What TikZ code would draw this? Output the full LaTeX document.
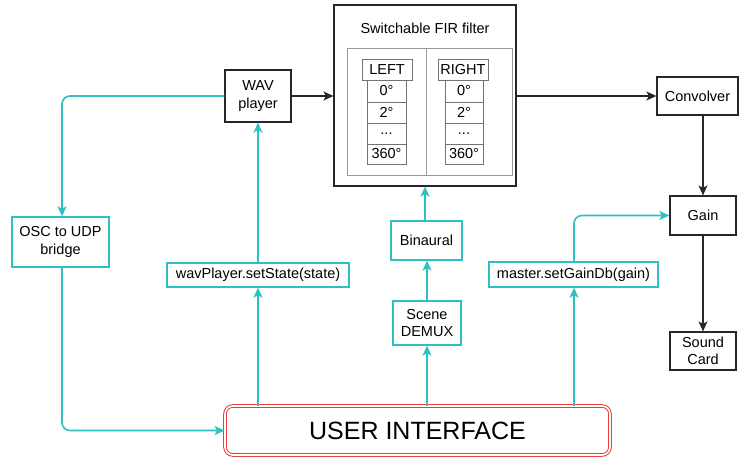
\documentclass[tikz,border=0pt]{standalone}
\usepackage{fontspec}
\setmainfont{Liberation Sans}
\usetikzlibrary{arrows.meta,calc}
\definecolor{teal2}{HTML}{2EC0C2}
\definecolor{uired}{HTML}{EE3B3B}
\begin{document}
\begin{tikzpicture}[x=1pt,y=-1pt,
  txt/.style={font=\fontsize{14.5}{17.5}\selectfont, align=center, inner sep=0pt},
  blk/.style={txt, draw=black!85, line width=1.2pt, fill=white},
  tbox/.style={txt, draw=teal2, line width=1.3pt, fill=white},
  cellbox/.style={txt, draw=black!55, line width=0.8pt, fill=white},
  blarrow/.style={draw=black!85, line width=1.2pt, -{Stealth[length=10pt,width=9pt,inset=2.5pt]}},
  tarrow/.style={draw=teal2, line width=1.6pt, rounded corners=8pt, -{Stealth[length=10pt,width=9pt,inset=2.5pt]}}
]
\useasboundingbox (0,0) rectangle (739,458);

% FIR filter
\node[blk, minimum width=182pt, minimum height=181pt] (fir) at (425,95.5) {};
\node[txt] (firtitle) at (425,28) {Switchable FIR filter};
\node[draw=black!40, line width=0.9pt, minimum width=165pt, minimum height=127pt, inner sep=0pt] (inner) at (429.5,111.5) {};
\coordinate (divt) at (426,48);
\coordinate (divb) at (426,175);
\draw[black!40, line width=0.9pt] (divt) -- (divb);

\node[cellbox, minimum width=50pt, minimum height=21pt] (lh) at (387,69.5) {LEFT};
\node[cellbox, minimum width=39pt, minimum height=22pt] (l0) at (386.5,91) {0°};
\node[cellbox, minimum width=39pt, minimum height=21pt] (l2) at (386.5,112.5) {2°};
\node[cellbox, minimum width=39pt, minimum height=21pt] (ld) at (386.5,133.5) {...};
\node[cellbox, minimum width=39pt, minimum height=20pt] (l3) at (386.5,154) {360°};

\node[cellbox, minimum width=50pt, minimum height=21pt] (rh) at (463,69.5) {RIGHT};
\node[cellbox, minimum width=38pt, minimum height=22pt] (r0) at (464,91) {0°};
\node[cellbox, minimum width=38pt, minimum height=21pt] (r2) at (464,112.5) {2°};
\node[cellbox, minimum width=38pt, minimum height=21pt] (rd) at (464,133.5) {...};
\node[cellbox, minimum width=38pt, minimum height=20pt] (r3) at (464,154) {360°};

% black nodes
\node[blk, minimum width=66pt, minimum height=52pt] (wav) at (258,96) {WAV\\player};
\node[blk, minimum width=81pt, minimum height=38pt] (conv) at (697.5,96) {Convolver};
\node[blk, minimum width=66pt, minimum height=39pt] (gain) at (703,215.5) {Gain};
\node[blk, minimum width=66pt, minimum height=38pt] (sound) at (703,351) {Sound\\Card};

% teal nodes
\node[tbox, minimum width=97pt, minimum height=50pt] (osc) at (60.5,242) {OSC to UDP\\bridge};
\node[tbox, minimum width=182pt, minimum height=24pt] (setstate) at (258,275) {wavPlayer.setState(state)};
\node[tbox, minimum width=71pt, minimum height=39pt] (bin) at (426.5,240.5) {Binaural};
\node[tbox, minimum width=68pt, minimum height=44pt] (demux) at (427,323) {Scene\\DEMUX};
\node[tbox, minimum width=169pt, minimum height=25pt] (setgain) at (573.5,274.5) {master.setGainDb(gain)};

% user interface
\node[txt, font=\fontsize{25}{30}\selectfont, draw=uired, line width=1pt, double=white, double distance=1.6pt,
  rounded corners=8pt, minimum width=385pt, minimum height=49pt, fill=white] (ui) at (417.5,430.5) {USER INTERFACE};

% black connectors
\draw[blarrow] (wav.east) -- (wav.east -| fir.west);
\draw[blarrow] (fir.east |- conv.west) -- (conv.west);
\draw[blarrow] (gain.north |- conv.south) -- (gain.north);
\draw[blarrow] (gain.south) -- (sound.north);

% teal connectors
\draw[tarrow] (wav.west) -| ($(osc.north)+(1.5,0)$);
\draw[tarrow] ($(osc.south)+(1.5,0)$) |- (ui.west);
\draw[tarrow] (ui.north -| setstate.south) -- (setstate.south);
\draw[tarrow] (setstate.north) -- (wav.south);
\draw[tarrow] (ui.north -| demux.south) -- (demux.south);
\draw[tarrow] (demux.north) -- (demux.north |- bin.south);
\draw[tarrow] ($(bin.north)+(-1.5,0)$) -- ($(bin.north |- fir.south)+(-1.5,0)$);
\draw[tarrow] ($(ui.north -| setgain.south)+(0.5,0)$) -- ($(setgain.south)+(0.5,0)$);
\draw[tarrow] ($(setgain.north)+(0.5,0)$) |- (gain.west);
\end{tikzpicture}
\end{document}
